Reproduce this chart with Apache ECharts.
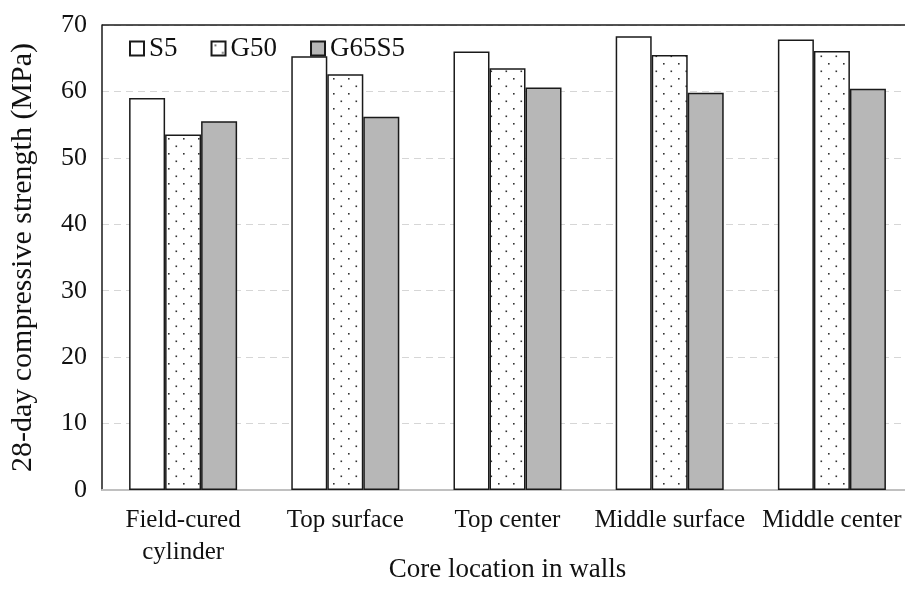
<!DOCTYPE html>
<html>
<head>
<meta charset="utf-8">
<script src="https://cdn.jsdelivr.net/npm/echarts@6/dist/echarts.min.js"></script>
<style>
  html, body { margin: 0; padding: 0; background: #fff; overflow: hidden; }
  #chart { width: 905px; height: 594px; }
</style>
</head>
<body>
<div id="chart"></div>
<script>
// Core locations and 28-day compressive strength (MPa) of each mix
var categories = ['Field-cured\ncylinder', 'Top surface', 'Top center', 'Middle surface', 'Middle center'];
var seriesNames = ['S5', 'G50', 'G65S5'];
var s5 = [59.0, 65.3, 66.0, 68.3, 67.8];
var g50 = [53.5, 62.6, 63.5, 65.5, 66.1];
var g65s5 = [55.5, 56.2, 60.6, 59.8, 60.4];
var yTicks = [0, 10, 20, 30, 40, 50, 60, 70];

// Staggered dot fill used for the G50 bars
function dotPattern() {
  var c = document.createElement('canvas');
  c.width = 15; c.height = 15;
  var ctx = c.getContext('2d');
  ctx.fillStyle = '#ffffff';
  ctx.fillRect(0, 0, 15, 15);
  ctx.fillStyle = '#333333';
  ctx.fillRect(3, 3, 1.6, 1.6);
  ctx.fillRect(10.5, 10.5, 1.6, 1.6);
  return c;
}

var font = '"Liberation Serif", "Times New Roman", serif';
var chart = echarts.init(document.getElementById('chart'));

var fills = ['#ffffff', { image: dotPattern(), repeat: 'repeat' }, '#b7b7b7'];
var values = [s5, g50, g65s5];

var series = seriesNames.map(function (name, i) {
  return {
    name: name,
    type: 'bar',
    data: values[i],
    barGap: '0%',
    barCategoryGap: '33.4%',
    itemStyle: { color: fills[i], borderColor: '#1a1a1a', borderWidth: 1.5 }
  };
});

chart.setOption({
  animation: false,
  backgroundColor: '#ffffff',
  textStyle: { fontFamily: font },
  grid: { left: 102, right: -8, top: 25, bottom: 104, containLabel: false, outerBoundsMode: 'none' },
  legend: {
    data: seriesNames,
    left: 124,
    top: 30,
    itemWidth: 14,
    itemHeight: 14,
    itemGap: 33,
    icon: 'rect',
    textStyle: { fontFamily: font, fontSize: 27, color: '#111' }
  },
  xAxis: {
    type: 'category',
    data: categories,
    name: 'Core location in walls',
    nameLocation: 'middle',
    nameGap: 66,
    nameMoveOverlap: false,
    nameTextStyle: { fontFamily: font, fontSize: 27, color: '#111' },
    axisLine: { show: true, lineStyle: { color: '#c0c0c0', width: 2 } },
    axisTick: { show: false },
    axisLabel: { fontFamily: font, fontSize: 25, color: '#111', margin: 14, lineHeight: 32, interval: 0 }
  },
  yAxis: {
    type: 'value',
    min: 0,
    max: 70,
    interval: 10,
    name: '28-day compressive strength (MPa)',
    nameLocation: 'middle',
    nameGap: 64,
    nameMoveOverlap: false,
    nameTextStyle: { fontFamily: font, fontSize: 30, color: '#111' },
    axisLine: { show: true, lineStyle: { color: '#1a1a1a', width: 1.5 } },
    axisTick: { show: false },
    axisLabel: {
      fontFamily: font, fontSize: 26, color: '#111', margin: 15,
      formatter: function (v) { return yTicks.indexOf(v) >= 0 ? String(v) : ''; }
    },
    splitLine: { show: true, lineStyle: { color: '#d6d6d6', type: [7, 5], width: 1.2 } }
  },
  graphic: [{
    type: 'line',
    shape: { x1: 102, y1: 25, x2: 905, y2: 25 },
    style: { stroke: '#1a1a1a', lineWidth: 1.5 },
    z: 10
  }],
  series: series
});
</script>
</body>
</html>
